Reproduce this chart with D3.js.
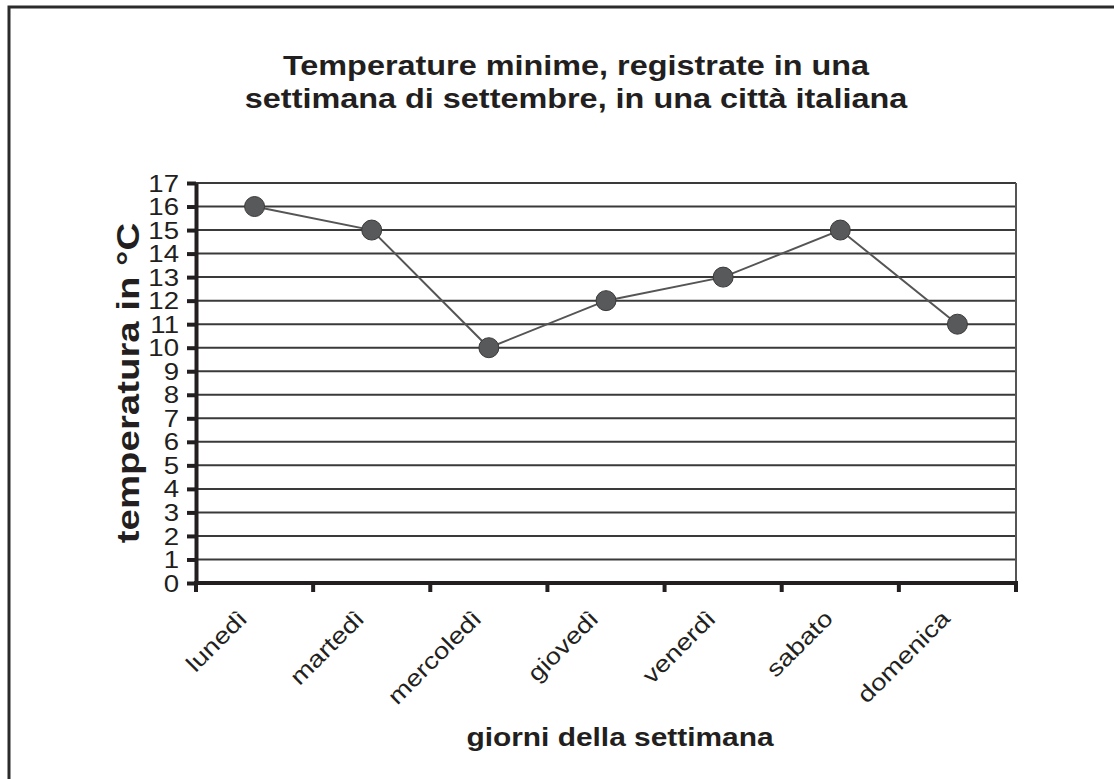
<!DOCTYPE html>
<html>
<head>
<meta charset="utf-8">
<script src="https://cdn.jsdelivr.net/npm/d3@7"></script>
<style>
  body { margin: 0; background: #fff; }
  text { font-family: "Liberation Sans", Arial, sans-serif; fill: #231f20; }
</style>
</head>
<body>
<svg id="chart" width="1114" height="779"></svg>
<script>
// values
let days = ["lunedì", "martedì", "mercoledì", "giovedì", "venerdì", "sabato", "domenica"];
let temps = [16, 15, 10, 12, 13, 15, 11];
let yTicks = d3.range(0, 18);
let titleLines = ["Temperature minime, registrate in una", "settimana di settembre, in una città italiana"];

// the type in the picture is a wide one, so text is stretched sideways a bit
let wide = 1.2;

let svg = d3.select("svg#chart"),
    margin = {top: 183, right: 98, bottom: 196, left: 196},
    width = +svg.attr("width") - margin.left - margin.right,
    height = +svg.attr("height") - margin.top - margin.bottom;

// outer frame (only left and top edges show in the picture)
svg.append("path")
    .attr("d", "M9,779V7H1114")
    .attr("fill", "none")
    .attr("stroke", "#2b2b2b")
    .attr("stroke-width", 3);

svg.selectAll("text.title")
    .data(titleLines)
    .enter().append("text")
    .attr("class", "title")
    .attr("transform", function(d, i) { return "translate(576," + (75 + i * 33) + ") scale(" + wide + ",1)"; })
    .attr("text-anchor", "middle")
    .style("font-size", "27px")
    .style("font-weight", "bold")
    .text(function(d) { return d; });

let g = svg.append("g").attr("transform", "translate(" + margin.left + "," + margin.top + ")");

let x = d3.scaleBand().domain(days).range([0, width]);
let y = d3.scaleLinear().domain([0, 17]).range([height, 0]);

// horizontal grid
g.append("g")
    .selectAll("line")
    .data(yTicks.slice(1))
    .enter().append("line")
    .attr("x1", 0)
    .attr("x2", width)
    .attr("y1", function(d) { return y(d); })
    .attr("y2", function(d) { return y(d); })
    .attr("stroke", "#3a3a3a")
    .attr("stroke-width", 2);

// right edge of plot area
g.append("line")
    .attr("x1", width).attr("x2", width)
    .attr("y1", y(17)).attr("y2", height)
    .attr("stroke", "#555")
    .attr("stroke-width", 2);

// y axis
let yAxis = g.append("g")
    .call(d3.axisLeft(y).tickValues(yTicks).tickSize(9).tickPadding(5).tickSizeOuter(0));
yAxis.select(".domain").attr("stroke", "#231f20").attr("stroke-width", 4);
yAxis.selectAll(".tick line").attr("stroke", "#231f20").attr("stroke-width", 4);
yAxis.selectAll(".tick text")
    .style("font-size", "23px")
    .style("font-family", "'Liberation Sans', Arial, sans-serif")
    .attr("fill", "#231f20")
    .attr("x", -17 / wide)
    .attr("transform", "scale(" + wide + ",1)")
    .attr("dy", "0.35em");

// x axis: ticks sit on category boundaries
let bounds = d3.range(0, days.length + 1).map(function(i) { return i * x.step(); });
g.append("line")
    .attr("x1", -2).attr("x2", width + 2)
    .attr("y1", height).attr("y2", height)
    .attr("stroke", "#231f20")
    .attr("stroke-width", 4);
g.append("g")
    .selectAll("line")
    .data(bounds)
    .enter().append("line")
    .attr("x1", function(d) { return d; })
    .attr("x2", function(d) { return d; })
    .attr("y1", height)
    .attr("y2", height + 9)
    .attr("stroke", "#231f20")
    .attr("stroke-width", 4);

g.append("g")
    .selectAll("text")
    .data(days)
    .enter().append("text")
    .attr("transform", function(d) {
        return "translate(" + (x(d) + x.bandwidth() / 2 - 6) + "," + (height + 37) + ") rotate(-45) scale(" + wide + ",1)";
    })
    .attr("text-anchor", "end")
    .style("font-size", "23px")
    .text(function(d) { return d; });

// data line and markers
let line = d3.line()
    .x(function(d, i) { return x(days[i]) + x.bandwidth() / 2; })
    .y(function(d) { return y(d); });

g.append("path")
    .datum(temps)
    .attr("d", line)
    .attr("fill", "none")
    .attr("stroke", "#555")
    .attr("stroke-width", 2);

g.selectAll("circle")
    .data(temps)
    .enter().append("circle")
    .attr("cx", function(d, i) { return x(days[i]) + x.bandwidth() / 2; })
    .attr("cy", function(d) { return y(d); })
    .attr("r", 10)
    .attr("fill", "#58595b")
    .attr("stroke", "#3a3a3a")
    .attr("stroke-width", 1);

// axis titles
svg.append("text")
    .attr("transform", "translate(139," + (margin.top + height / 2) + ") rotate(-90) scale(" + wide + ",1)")
    .attr("text-anchor", "middle")
    .style("font-size", "32px")
    .style("font-weight", "bold")
    .text("temperatura in °C");

svg.append("text")
    .attr("transform", "translate(620,746) scale(1.15,1)")
    .attr("text-anchor", "middle")
    .style("font-size", "26px")
    .style("font-weight", "bold")
    .text("giorni della settimana");
</script>
</body>
</html>
